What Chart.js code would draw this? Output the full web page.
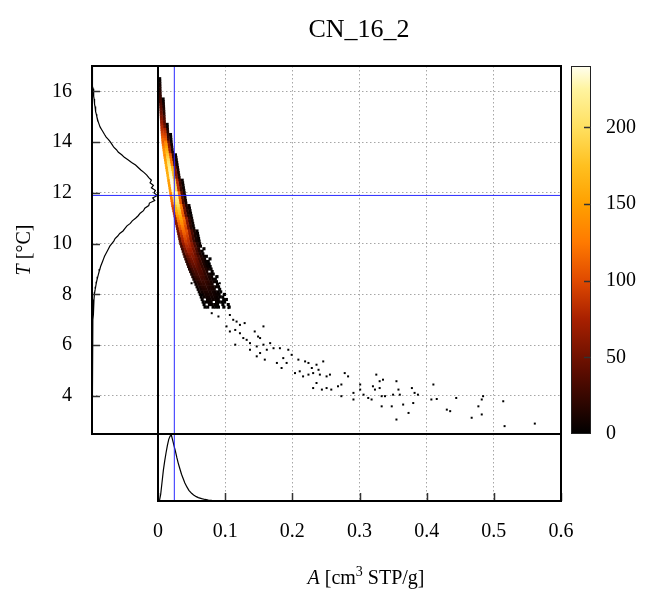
<!DOCTYPE html>
<html><head><meta charset="utf-8">
<script src="https://cdn.jsdelivr.net/npm/chart.js@4.4.1/dist/chart.umd.min.js"></script>
<style>
html,body{margin:0;padding:0;background:#fff;}
#wrap{position:relative;width:646px;height:591px;overflow:hidden;}
#wrap canvas{position:absolute;left:0;top:0;}
</style></head><body>
<div id="wrap">
<canvas id="cMain" width="646" height="591"></canvas>
<canvas id="cLeft" width="646" height="591"></canvas>
<canvas id="cBottom" width="646" height="591"></canvas>
<canvas id="cBar" width="646" height="591"></canvas>
</div>
<script>
// ---------------- data ----------------
const titleText = 'CN_16_2';
const xTickVals = [0, 0.1, 0.2, 0.3, 0.4, 0.5, 0.6];
const yTickVals = [4, 6, 8, 10, 12, 14, 16];
const cbTickVals = [0, 50, 100, 150, 200];
const xRange = [0, 0.6];
const yRange = [2.5, 17];
const cbRange = [0, 240];
const meanA = 0.0243;
const meanT = 11.9;
const binA = 0.004;

// rows of the 2D histogram: [T, A at left edge of the row, counts of consecutive A-bins]
const heatRows = [
 [16.5, 0.0005, [3]],
 [16.4, 0.0006, [5]],
 [16.3, 0.0007, [8]],
 [16.2, 0.0008, [11]],
 [16.1, 0.0009, [14]],
 [16.0, 0.0010, [17]],
 [15.9, 0.0012, [20]],
 [15.8, 0.0014, [23]],
 [15.7, 0.0016, [27, 3]],
 [15.6, 0.0018, [30, 4]],
 [15.5, 0.0020, [34, 8]],
 [15.4, 0.0022, [38, 10]],
 [15.3, 0.0024, [42, 12]],
 [15.2, 0.0026, [46, 15]],
 [15.1, 0.0028, [50, 18]],
 [15.0, 0.0030, [55, 30]],
 [14.9, 0.0032, [60, 34]],
 [14.8, 0.0034, [66, 38]],
 [14.7, 0.0036, [72, 42, 3]],
 [14.6, 0.0038, [79, 48, 4]],
 [14.5, 0.0040, [82, 77, 12]],
 [14.4, 0.0043, [89, 85, 16]],
 [14.3, 0.0046, [97, 92, 20, 2]],
 [14.2, 0.0049, [105, 100, 24, 3]],
 [14.1, 0.0052, [114, 108, 28, 3]],
 [14.0, 0.0055, [110, 130, 52, 6]],
 [13.9, 0.0060, [119, 140, 60, 8]],
 [13.8, 0.0065, [128, 150, 66, 10]],
 [13.7, 0.0070, [136, 160, 72, 12]],
 [13.6, 0.0075, [145, 170, 77, 14]],
 [13.5, 0.0080, [135, 180, 108, 27, 5]],
 [13.4, 0.0086, [142, 189, 113, 28, 6]],
 [13.3, 0.0092, [149, 198, 119, 30, 6]],
 [13.2, 0.0098, [154, 205, 123, 31, 6]],
 [13.1, 0.0104, [159, 212, 127, 32, 6]],
 [13.0, 0.0110, [153, 218, 164, 55, 11]],
 [12.9, 0.0116, [157, 224, 168, 56, 11]],
 [12.8, 0.0122, [160, 228, 171, 57, 11]],
 [12.7, 0.0128, [162, 232, 174, 58, 12]],
 [12.6, 0.0134, [165, 235, 176, 59, 12]],
 [12.5, 0.0140, [147, 237, 201, 83, 24, 5]],
 [12.4, 0.0146, [148, 238, 202, 83, 24, 5]],
 [12.3, 0.0152, [148, 239, 203, 84, 24, 5]],
 [12.2, 0.0158, [148, 238, 202, 83, 24, 5]],
 [12.1, 0.0164, [146, 236, 201, 83, 24, 5]],
 [12.0, 0.0170, [128, 220, 232, 116, 37, 9]],
 [11.9, 0.0176, [125, 217, 228, 114, 36, 9]],
 [11.8, 0.0182, [122, 210, 221, 110, 35, 9]],
 [11.7, 0.0188, [118, 203, 214, 107, 34, 9]],
 [11.6, 0.0194, [113, 195, 205, 103, 33, 8]],
 [11.5, 0.0200, [98, 176, 196, 127, 53, 16, 4]],
 [11.4, 0.0208, [93, 167, 186, 121, 50, 15, 4]],
 [11.3, 0.0216, [88, 158, 176, 114, 48, 14, 4]],
 [11.2, 0.0224, [84, 150, 167, 109, 45, 13, 3]],
 [11.1, 0.0232, [79, 142, 158, 103, 43, 13, 3]],
 [11.0, 0.0240, [68, 128, 150, 120, 63, 23, 6]],
 [10.9, 0.0248, [64, 121, 142, 114, 60, 21, 6]],
 [10.8, 0.0256, [61, 115, 135, 108, 57, 20, 5]],
 [10.7, 0.0264, [58, 109, 128, 102, 54, 19, 5]],
 [10.6, 0.0272, [54, 103, 121, 97, 51, 18, 5]],
 [10.5, 0.0280, [48, 92, 115, 104, 69, 32, 12, 3]],
 [10.4, 0.0288, [46, 87, 109, 98, 65, 31, 11, 3]],
 [10.3, 0.0296, [43, 82, 103, 93, 62, 29, 10, 3]],
 [10.2, 0.0304, [41, 78, 97, 87, 58, 27, 10, 3]],
 [10.1, 0.0312, [38, 73, 91, 82, 55, 25, 9, 3]],
 [10.0, 0.0320, [34, 66, 85, 81, 61, 36, 15, 5]],
 [9.9, 0.0332, [32, 62, 80, 76, 58, 34, 14, 5]],
 [9.8, 0.0344, [30, 59, 75, 71, 54, 32, 14, 0, 2]],
 [9.7, 0.0356, [28, 55, 70, 67, 50, 29, 13, 4]],
 [9.6, 0.0368, [26, 51, 65, 62, 47, 27, 12, 4]],
 [9.5, 0.0380, [23, 45, 57, 60, 48, 31, 16, 6, 2]],
 [9.4, 0.0394, [21, 42, 53, 56, 45, 29, 15, 6, 0, 1]],
 [9.3, 0.0408, [20, 39, 49, 52, 42, 27, 14, 5, 2]],
 [9.2, 0.0422, [18, 36, 46, 48, 38, 25, 12, 5, 1]],
 [9.1, 0.0436, [17, 33, 42, 44, 35, 23, 11, 4, 1]],
 [9.0, 0.0450, [14, 28, 36, 40, 35, 25, 14, 6, 2]],
 [8.9, 0.0466, [13, 26, 33, 37, 33, 23, 13, 0, 2]],
 [8.8, 0.0482, [12, 24, 31, 34, 30, 21, 12, 5, 2]],
 [8.7, 0.0498, [11, 22, 28, 31, 27, 19, 11, 5, 0, 1]],
 [8.6, 0.0514, [10, 20, 25, 28, 25, 17, 10, 4, 1]],
 [8.5, 0.0530, [8, 16, 23, 25, 23, 18, 11, 6, 2]],
 [8.4, 0.0546, [7, 14, 20, 22, 20, 15, 10, 0, 2]],
 [8.3, 0.0562, [6, 12, 17, 19, 17, 13, 9, 4, 2]],
 [8.2, 0.0578, [5, 10, 14, 16, 14, 11, 7, 0, 1]],
 [8.1, 0.0594, [4, 8, 12, 13, 12, 9, 6, 3, 1]],
 [8.0, 0.0610, [3, 6, 9, 10, 10, 8, 5, 3, 0, 1]],
 [7.9, 0.0624, [2, 5, 7, 8, 8, 6, 4, 2, 1]],
 [7.8, 0.0638, [2, 0, 5, 6, 6, 5, 3, 0, 1, 1]],
 [7.7, 0.0652, [1, 2, 3, 4, 0, 3, 2, 1, 1]],
 [7.6, 0.0666, [1, 0, 3, 3, 3, 2, 0, 1, 0, 1]],
 [7.5, 0.0680, [1, 1, 0, 2, 2, 1, 0, 1, 0, 1]]
];

// isolated single-count cells of the sparse tail: [A, T]
const tailPts = [
 [0.050,8.44],[0.087,8.70],[0.092,8.44],[0.065,7.98],[0.080,7.26],[0.090,7.13],[0.105,7.46],
 [0.107,7.19],[0.112,7.00],[0.117,6.93],[0.122,6.80],[0.129,6.87],[0.102,6.74],[0.107,6.54],
 [0.115,6.60],[0.122,6.47],[0.127,6.28],[0.132,6.21],[0.144,6.54],[0.149,6.34],[0.157,6.74],
 [0.152,6.28],[0.137,6.08],[0.115,6.02],[0.137,5.82],[0.147,5.95],[0.157,6.02],[0.162,5.82],
 [0.167,6.08],[0.172,5.88],[0.177,5.30],[0.159,5.43],[0.152,5.69],[0.147,5.56],
 [0.1815,5.88],[0.1865,5.49],[0.194,5.82],[0.1915,5.30],[0.184,5.10],[0.199,5.62],[0.204,4.90],
 [0.209,5.43],[0.211,4.97],[0.219,5.36],[0.224,5.30],[0.229,5.10],[0.216,4.77],[0.224,4.84],
 [0.231,4.90],[0.236,5.23],[0.239,5.03],[0.241,4.84],[0.246,5.36],[0.251,4.77],[0.256,4.84],
 [0.236,4.51],[0.244,4.25],[0.251,4.31],[0.231,4.31],[0.258,4.25],[0.268,4.38],[0.273,4.45],
 [0.278,4.90],[0.283,4.77],[0.273,3.99],[0.291,4.12],[0.291,3.86],[0.301,4.45],[0.301,4.25],
 [0.306,4.05],[0.313,3.92],[0.318,3.86],[0.320,4.38],[0.323,4.25],[0.325,4.84],[0.330,4.58],
 [0.335,4.64],[0.330,4.31],[0.333,3.99],[0.338,3.99],[0.333,3.59],[0.348,3.59],[0.350,4.05],
 [0.355,4.58],[0.358,4.25],[0.360,4.05],[0.355,3.07],[0.365,3.66],[0.373,3.33],[0.378,4.31],
 [0.380,3.72],[0.382,4.12],[0.387,4.05],[0.407,3.86],[0.410,4.45],[0.415,3.88],[0.430,3.46],
 [0.435,3.40],[0.444,3.92],[0.467,3.14],[0.477,3.59],[0.482,3.86],[0.482,3.27],[0.484,3.99],
 [0.514,3.79],[0.516,2.81],[0.561,2.91]
];

// marginal histogram of T (left panel): [T, relative count]
const leftHist = [
 [17.0,0],[16.8,0],[16.7,0.2],[16.6,0.4],[16.5,0.6],[16.4,0.9],[16.3,1.2],[16.2,1.5],[16.1,1.8],
 [16.0,2.2],[15.9,2.5],[15.8,2.9],[15.7,3.2],[15.6,3.6],[15.5,4.1],[15.4,4.6],[15.3,5.2],
 [15.2,5.8],[15.1,6.5],[15.0,7.3],[14.9,8.4],[14.8,9.5],[14.7,10.8],[14.6,12.2],[14.5,14.5],
 [14.4,16.8],[14.3,19],[14.2,21.5],[14.1,25],[14.0,28],[13.9,30.5],[13.8,33],[13.7,37],
 [13.6,40],[13.5,45],[13.4,49],[13.3,55],[13.2,60],[13.1,66],[13.0,70],[12.9,74],[12.8,79],
 [12.7,83],[12.6,86],[12.5,90],[12.4,88],[12.3,93],[12.2,90],[12.1,96],[12.0,94],[11.9,99],
 [11.8,92],[11.7,95],[11.6,87],[11.5,86],[11.4,80],[11.3,78],[11.2,73],[11.1,70],[11.0,66],
 [10.9,61],[10.8,58],[10.7,53],[10.6,50],[10.5,47],[10.4,42],[10.3,39],[10.2,35],[10.1,33],
 [10.0,30],[9.9,27],[9.8,25],[9.7,23],[9.6,21],[9.5,19],[9.4,17.5],[9.3,16],[9.2,14.5],
 [9.1,13],[9.0,12],[8.9,10.8],[8.8,9.8],[8.7,8.8],[8.6,7.8],[8.5,7],[8.4,6.2],[8.3,5.5],
 [8.2,4.8],[8.1,4.2],[8.0,3.6],[7.8,3],[7.6,2.5],[7.4,2.1],[7.2,1.7],[7.0,1.3],[6.8,0.9],
 [6.6,0.5],[6.4,0.2],[6.2,0],[2.5,0]
];

// marginal histogram of A (bottom panel): [A, relative count]
const bottomHist = [
 [0,0],[0.002,0],[0.004,10],[0.006,28],[0.008,46],[0.010,60],[0.012,72],[0.014,83],[0.016,92],
 [0.018,97],[0.019,99],[0.020,98],[0.022,90],[0.024,82],[0.026,74],[0.028,65],[0.030,57],
 [0.032,50],[0.035,40],[0.038,32],[0.040,27],[0.043,21],[0.046,16],[0.050,11.5],[0.053,9],
 [0.057,6.5],[0.060,5],[0.065,3.5],[0.070,2.3],[0.075,1.5],[0.080,1],[0.090,0.5],[0.100,0.2],
 [0.120,0],[0.6,0]
];
const histMax = 100;

// colour map stops: [count, [r,g,b]]
const cmapStops = [
 [0,[0,0,0]],[40,[90,12,0]],[75,[168,32,0]],[100,[224,74,0]],[125,[255,122,0]],
 [150,[255,160,0]],[175,[255,192,32]],[200,[255,224,96]],[225,[255,244,160]],[240,[255,255,240]]
];

// ---------------- helpers ----------------
function heatColor(v){
  for(let i=1;i<cmapStops.length;i++){
    const [v1,c1]=cmapStops[i], [v0,c0]=cmapStops[i-1];
    if(v<=v1){
      const f=(v-v0)/(v1-v0);
      return 'rgb('+c0.map((c,k)=>Math.round(c+(c1[k]-c)*f)).join(',')+')';
    }
  }
  return 'rgb(255,255,240)';
}
const heatPts = [];
heatRows.forEach(([t,a0,counts])=>counts.forEach((v,k)=>{ if(v>0) heatPts.push({x:a0+(k+0.5)*binA, y:t, v}); }));
heatPts.sort((a,b)=>a.v-b.v);
const tailData = tailPts.map(([a,t])=>({x:a,y:t,v:1}));

const FONT = '"Liberation Serif", "DejaVu Serif", serif';
const tickFont = {family: FONT, size: 20};
const GRID = '#a6a6a6';
const DASH = [1.5, 2.5];
const BLUE = '#2a2aff';
const setTicks = vals => (s => { s.ticks = vals.map(v=>({value:v})); });

function frame(ctx, a, lw){
  ctx.save(); ctx.strokeStyle='#000'; ctx.lineWidth=lw;
  ctx.strokeRect(a.left, a.top, a.right-a.left, a.bottom-a.top);
  ctx.restore();
}
function richText(ctx, parts, x, y){
  let w=0;
  parts.forEach(p=>{ctx.font=p.font; p.w=ctx.measureText(p.t).width; w+=p.w;});
  let cx=x-w/2;
  ctx.textAlign='left'; ctx.textBaseline='alphabetic'; ctx.fillStyle='#000';
  parts.forEach(p=>{ctx.font=p.font; ctx.fillText(p.t, cx, y+(p.dy||0)); cx+=p.w;});
}

Chart.defaults.animation = false;
Chart.defaults.font.family = FONT;
Chart.defaults.color = '#000';

// ---------------- main heat map ----------------
new Chart(document.getElementById('cMain'), {
  type:'scatter',
  data:{datasets:[
    {data:[{x:meanA,y:yRange[0]},{x:meanA,y:yRange[1]}], showLine:true, borderColor:BLUE, borderWidth:1, pointRadius:0},
    {data:[{x:xRange[0],y:meanT},{x:xRange[1],y:meanT}], showLine:true, borderColor:BLUE, borderWidth:1, pointRadius:0},
    {data:tailData, pointStyle:'rect', pointRadius:1.414, pointBorderWidth:0, pointBackgroundColor:'#000'},
    {data:heatPts, pointStyle:'rect', pointRadius:2.2, pointBorderWidth:0,
     pointBackgroundColor: c => heatColor(c.raw ? c.raw.v : 0)}
  ]},
  options:{
    responsive:false, devicePixelRatio:1,
    layout:{padding:{left:158, top:66, right:85, bottom:157}},
    plugins:{legend:{display:false}, tooltip:{enabled:false}},
    events:[],
    scales:{
      x:{type:'linear', min:xRange[0], max:xRange[1], afterBuildTicks:setTicks(xTickVals),
         ticks:{display:false}, grid:{color:GRID, lineWidth:1, drawTicks:false},
         border:{display:false, dash:DASH}, afterFit(s){s.height=0;}},
      y:{type:'linear', min:yRange[0], max:yRange[1], afterBuildTicks:setTicks(yTickVals),
         ticks:{display:false}, grid:{color:GRID, lineWidth:1, drawTicks:false},
         border:{display:false, dash:DASH}, afterFit(s){s.width=0;}}
    }
  },
  plugins:[{id:'mainDeco',
    afterDatasetsDraw(chart){ frame(chart.ctx, chart.chartArea, 2); },
    afterDraw(chart){
      const ctx=chart.ctx;
      ctx.save();
      richText(ctx,[{t:titleText,font:'26px '+FONT}], 359, 37);
      richText(ctx,[{t:'A',font:'italic 20px '+FONT},{t:' [cm',font:'20px '+FONT},
                    {t:'3',font:'14px '+FONT,dy:-8},{t:' STP/g]',font:'20px '+FONT}], 366, 584);
      ctx.translate(30, 250); ctx.rotate(-Math.PI/2);
      richText(ctx,[{t:'T',font:'italic 20px '+FONT},{t:' [°C]',font:'20px '+FONT}], 0, 0);
      ctx.restore();
    }}]
});

// ---------------- left marginal (T) ----------------
new Chart(document.getElementById('cLeft'), {
  type:'scatter',
  data:{datasets:[
    {data:[{x:0,y:meanT},{x:histMax,y:meanT}], showLine:true, borderColor:BLUE, borderWidth:1, pointRadius:0},
    {data:leftHist.map(([t,n])=>({x:n,y:t})), showLine:true, borderColor:'#000', borderWidth:1.2, pointRadius:0}
  ]},
  options:{
    responsive:false, devicePixelRatio:1, events:[],
    layout:{padding:{left:0, top:66, right:488, bottom:157}},
    plugins:{legend:{display:false}, tooltip:{enabled:false}},
    scales:{
      x:{type:'linear', min:0, max:histMax, display:false},
      y:{type:'linear', position:'left', min:yRange[0], max:yRange[1], afterBuildTicks:setTicks(yTickVals),
         ticks:{font:tickFont, color:'#000', padding:20},
         grid:{color:GRID, lineWidth:1, drawTicks:false}, border:{display:false, dash:DASH},
         afterFit(s){s.width=92;}}
    }
  },
  plugins:[{id:'leftDeco', afterDatasetsDraw(chart){
    const {ctx, chartArea:a, scales:{y}} = chart;
    ctx.save(); ctx.strokeStyle='#333'; ctx.lineWidth=1.5;
    yTickVals.forEach(v=>{const p=Math.round(y.getPixelForValue(v))+0.5; ctx.beginPath(); ctx.moveTo(a.left, p); ctx.lineTo(a.left+8, p); ctx.stroke();});
    ctx.restore();
    frame(ctx, a, 2);
  }}]
});

// ---------------- bottom marginal (A) ----------------
new Chart(document.getElementById('cBottom'), {
  type:'scatter',
  data:{datasets:[
    {data:[{x:meanA,y:0},{x:meanA,y:histMax}], showLine:true, borderColor:BLUE, borderWidth:1, pointRadius:0},
    {data:bottomHist.map(([a,n])=>({x:a,y:n})), showLine:true, borderColor:'#000', borderWidth:1.2, pointRadius:0}
  ]},
  options:{
    responsive:false, devicePixelRatio:1, events:[],
    layout:{padding:{left:158, top:434, right:85, bottom:50}},
    plugins:{legend:{display:false}, tooltip:{enabled:false}},
    scales:{
      x:{type:'linear', position:'bottom', min:xRange[0], max:xRange[1], afterBuildTicks:setTicks(xTickVals),
         ticks:{font:tickFont, color:'#000', padding:19, callback:v=>String(+v.toFixed(1))},
         grid:{color:GRID, lineWidth:1, drawTicks:false}, border:{display:false, dash:DASH},
         afterFit(s){s.height=40;}},
      y:{type:'linear', min:0, max:histMax, display:false}
    }
  },
  plugins:[{id:'botDeco', afterDatasetsDraw(chart){
    const {ctx, chartArea:a, scales:{x}} = chart;
    ctx.save(); ctx.strokeStyle='#333'; ctx.lineWidth=1.5;
    xTickVals.forEach(v=>{const p=Math.round(x.getPixelForValue(v))+0.5; ctx.beginPath(); ctx.moveTo(p, a.bottom); ctx.lineTo(p, a.bottom-8); ctx.stroke();});
    ctx.restore();
    frame(ctx, a, 2);
  }}]
});

// ---------------- colour bar ----------------
new Chart(document.getElementById('cBar'), {
  type:'scatter',
  data:{datasets:[]},
  options:{
    responsive:false, devicePixelRatio:1, events:[],
    layout:{padding:{left:571, top:66, right:0, bottom:157}},
    plugins:{legend:{display:false}, tooltip:{enabled:false}},
    scales:{
      x:{type:'linear', min:0, max:1, display:false},
      y:{type:'linear', position:'right', min:cbRange[0], max:cbRange[1], afterBuildTicks:setTicks(cbTickVals),
         ticks:{font:tickFont, color:'#000', padding:15},
         grid:{display:false, drawTicks:false}, border:{display:false},
         afterFit(s){s.width=55;}}
    }
  },
  plugins:[{id:'cbDeco', afterDraw(chart){
    const {ctx, chartArea:a, scales:{y}} = chart;
    ctx.save();
    const g = ctx.createLinearGradient(0, y.getPixelForValue(cbRange[0]), 0, y.getPixelForValue(cbRange[1]));
    cmapStops.forEach(([v,c])=>g.addColorStop((v-cbRange[0])/(cbRange[1]-cbRange[0]), 'rgb('+c.join(',')+')'));
    ctx.fillStyle=g; ctx.fillRect(a.left, a.top, a.right-a.left, a.bottom-a.top);
    ctx.strokeStyle='#222'; ctx.lineWidth=1;
    ctx.strokeRect(a.left+0.5, a.top+0.5, a.right-a.left-1, a.bottom-a.top-1);
    ctx.strokeStyle='#333'; ctx.lineWidth=1.5;
    cbTickVals.forEach(v=>{ if(v===cbRange[0]) return; const p=Math.round(y.getPixelForValue(v))+0.5;
      ctx.beginPath(); ctx.moveTo(a.right, p); ctx.lineTo(a.right-7, p); ctx.stroke();});
    ctx.restore();
  }}]
});
</script>
</body></html>
